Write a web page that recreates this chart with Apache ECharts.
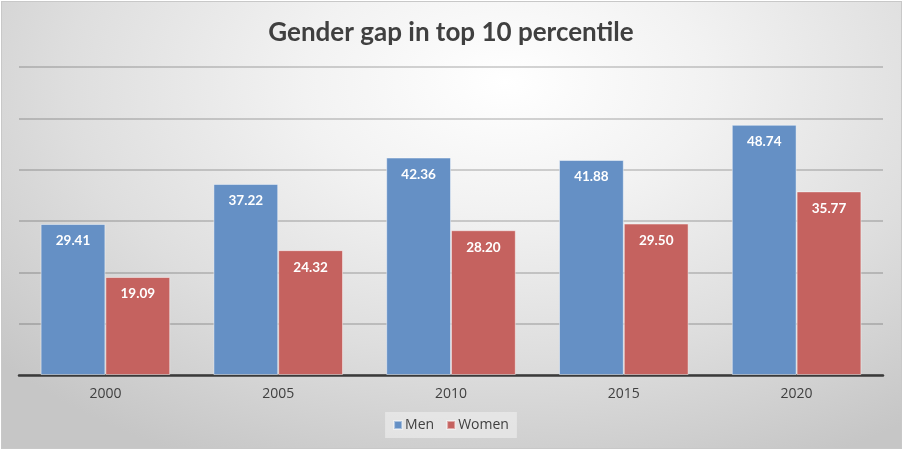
<!DOCTYPE html>
<html>
<head>
<meta charset="utf-8">
<script src="https://cdn.jsdelivr.net/npm/echarts@6/dist/echarts.min.js"></script>
<style>
html,body{margin:0;padding:0;background:#fff;}
#wrap{position:absolute;left:1px;top:1px;width:899px;height:446px;border:1px solid #c8c8c8;
background:radial-gradient(ellipse 75% 95% at 56% 18%, #ffffff 0%, #f2f2f2 30%, #dedede 65%, #c6c6c6 100%);}
#chart{position:absolute;left:-2px;top:-2px;width:902px;height:450px;}
</style>
</head>
<body>
<div id="wrap"><div id="chart"></div></div>
<script>
var categories = ['2000', '2005', '2010', '2015', '2020'];
var men = [29.41, 37.22, 42.36, 41.88, 48.74];
var women = [19.09, 24.32, 28.20, 29.50, 35.77];
var seriesNames = ['Men', 'Women'];

var chart = echarts.init(document.getElementById('chart'), null, {renderer:'canvas'});
var labelStyle = {
  show: true, position: 'insideTop', distance: 10,
  color: '#ffffff', fontWeight: 'bold', fontSize: 13.5,
  fontFamily: 'Lato, "Open Sans", sans-serif',
  formatter: function(p){ return p.value.toFixed(2); }
};
chart.setOption({
  backgroundColor: 'transparent',
  animation: false,
  title: {
    text: 'Gender gap in top 10 percentile',
    left: 'center', top: 15,
    textStyle: {color:'#404040', fontSize: 26, fontWeight: 'bold', fontFamily: 'Lato, "Open Sans", sans-serif'}
  },
  legend: {
    data: seriesNames,
    bottom: 12, left: 'center',
    icon: 'rect', itemWidth: 8, itemHeight: 8, itemGap: 12,
    backgroundColor: 'rgba(240,240,240,0.6)',
    padding: [6, 8, 6, 8],
    textStyle: {color:'#404040', fontSize: 14, fontFamily: '"Open Sans", Lato, sans-serif', padding:[0,0,0,-2]}
  },
  grid: {left: 19, right: 19, top: 67, bottom: 75, containLabel: false},
  xAxis: {
    type: 'category', data: categories,
    axisLine: {lineStyle: {color: '#3a3a3a', width: 2.5}},
    axisTick: {show: false},
    axisLabel: {color:'#404040', fontSize: 14, margin: 12, fontFamily: '"Open Sans", Lato, sans-serif'}
  },
  yAxis: {
    type: 'value', min: 0, max: 60, interval: 10,
    axisLabel: {show: false}, axisLine: {show: false}, axisTick: {show: false},
    splitLine: {lineStyle: {color: 'rgba(0,0,0,0.22)', width: 1.5}}
  },
  series: [
    {name: seriesNames[0], type: 'bar', data: men, barGap: '0%', barCategoryGap: '25%',
     itemStyle: {color: '#6590c5', borderColor: 'rgba(255,255,255,0.45)', borderWidth: 1}, label: labelStyle},
    {name: seriesNames[1], type: 'bar', data: women, barGap: '0%', barCategoryGap: '25%',
     itemStyle: {color: '#c5625f', borderColor: 'rgba(255,255,255,0.45)', borderWidth: 1}, label: labelStyle}
  ]
});
</script>
</body>
</html>
